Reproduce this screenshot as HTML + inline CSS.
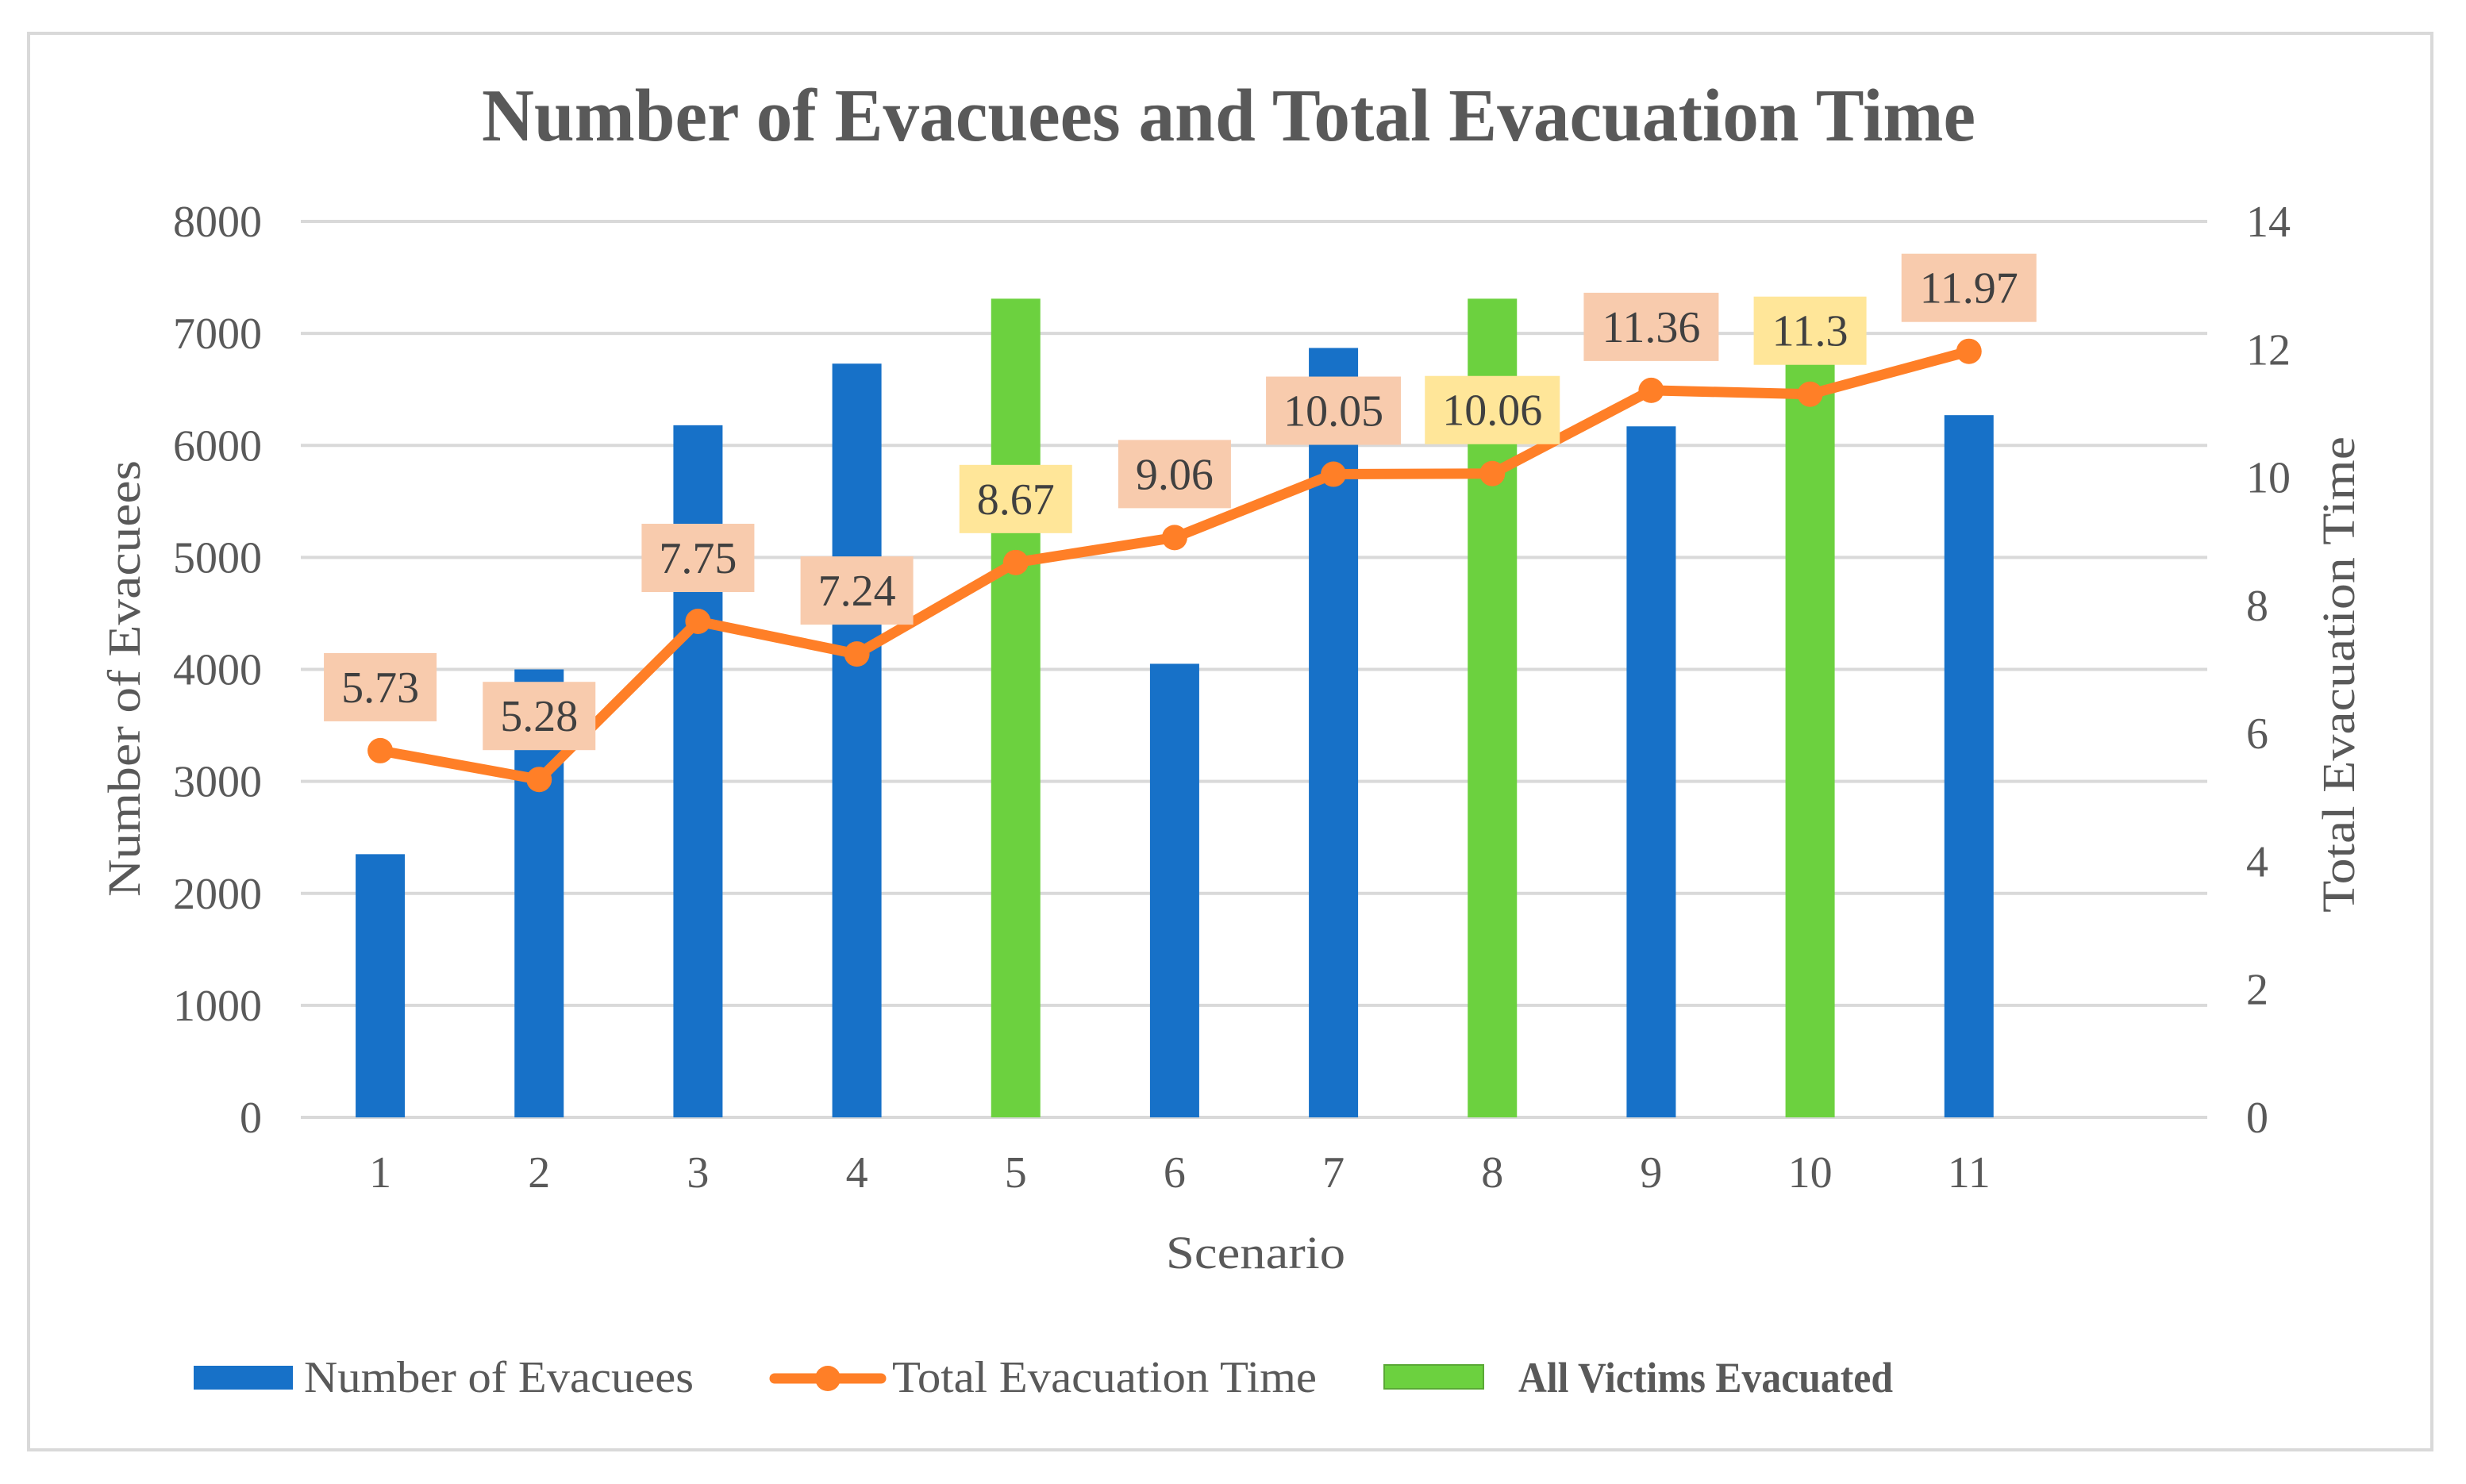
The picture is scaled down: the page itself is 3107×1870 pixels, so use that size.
<!DOCTYPE html>
<html><head><meta charset="utf-8"><style>
html,body{margin:0;padding:0;background:#fff;}
svg{display:block;font-family:"Liberation Serif",serif;}
</style></head><body>
<svg id="chart" width="3107" height="1870" viewBox="0 0 3107 1870" xmlns="http://www.w3.org/2000/svg">
<rect x="36" y="42" width="3028" height="1785" fill="#fff" stroke="#d9d9d9" stroke-width="4"/>
<text x="1548" y="177" text-anchor="middle" font-size="94" font-weight="bold" fill="#595959" textLength="1882" lengthAdjust="spacingAndGlyphs">Number of Evacuees and Total Evacuation Time</text>
<g id="grid"></g><g id="bars"></g><g id="line"></g><g id="labels"></g><g id="axes"></g>
<text transform="translate(176,855) rotate(-90)" text-anchor="middle" font-size="58" fill="#595959" textLength="550" lengthAdjust="spacingAndGlyphs">Number of Evacuees</text>
<text transform="translate(2966,850) rotate(-90)" text-anchor="middle" font-size="58" fill="#595959" textLength="600" lengthAdjust="spacingAndGlyphs">Total Evacuation Time</text>
<text x="1582" y="1598" text-anchor="middle" font-size="58" fill="#595959" textLength="226" lengthAdjust="spacingAndGlyphs">Scenario</text>
<g>
<g>
<rect x="244" y="1721" width="125" height="30" fill="#1771C8"/>
<text x="383" y="1754" font-size="56" fill="#595959" textLength="491" lengthAdjust="spacingAndGlyphs">Number of Evacuees</text></g>
<g>
<line x1="976" y1="1737" x2="1110" y2="1737" stroke="#FF7F27" stroke-width="13" stroke-linecap="round"/>
<circle cx="1043" cy="1737" r="16" fill="#FF7F27"/>
<text x="1124" y="1754" font-size="56" fill="#595959" textLength="535" lengthAdjust="spacingAndGlyphs">Total Evacuation Time</text></g>
<g>
<rect x="1744" y="1720" width="125" height="30" fill="#6CD13F" stroke="#5aa836" stroke-width="2"/>
<text x="1913" y="1754" font-size="54" font-weight="bold" fill="#595959" textLength="472" lengthAdjust="spacingAndGlyphs">All Victims Evacuated</text></g>
</g>
</svg>
<script>
const categories = ["1","2","3","4","5","6","7","8","9","10","11"];
const evacuees = [2350,4000,6180,6730,7310,4050,6870,7310,6170,7310,6270];
const allEvacuated = [false,false,false,false,true,false,false,true,false,true,false];
const times = [5.73,5.28,7.75,7.24,8.67,9.06,10.05,10.06,11.36,11.3,11.97];
const timeLabels = ["5.73","5.28","7.75","7.24","8.67","9.06","10.05","10.06","11.36","11.3","11.97"];
const leftTicks = [0,1000,2000,3000,4000,5000,6000,7000,8000];
const rightTicks = [0,2,4,6,8,10,12,14];

const NS="http://www.w3.org/2000/svg";
const L=379, R=2781, T=279, B=1408, nSlots=12;
const slot=(R-L)/nSlots;
const xC=i=>L+slot*(i+0.5);
const yL=v=>B-(v/8000)*(B-T);
const yR=v=>B-(v/14)*(B-T);
function mk(tag,attrs,parent){const e=document.createElementNS(NS,tag);for(const k in attrs)e.setAttribute(k,attrs[k]);parent.appendChild(e);return e;}
const grid=document.getElementById('grid'),bars=document.getElementById('bars'),line=document.getElementById('line'),labels=document.getElementById('labels'),axes=document.getElementById('axes');
leftTicks.forEach(v=>{
  const g=mk('line',{x1:L,x2:R,y1:yL(v),y2:yL(v),stroke:'#d9d9d9','stroke-width':4},grid);
  
  
  const t=mk('text',{x:330,y:yL(v)+19,'text-anchor':'end','font-size':56,fill:'#595959'},axes);
  t.textContent=v;
  
  
});
rightTicks.forEach(v=>{
  const t=mk('text',{x:2830,y:yR(v)+19,'text-anchor':'start','font-size':56,fill:'#595959'},axes);
  t.textContent=v;
  
  
});
categories.forEach((c,i)=>{
  const t=mk('text',{x:xC(i),y:1496,'text-anchor':'middle','font-size':56,fill:'#595959'},axes);
  t.textContent=c;
  
  
  const b=mk('rect',{x:xC(i)-31,y:yL(evacuees[i]),width:62,height:B-yL(evacuees[i]),fill:allEvacuated[i]?'#6CD13F':'#1771C8'},bars);
  
  
});
const pts=times.map((v,i)=>xC(i)+','+yR(v)).join(' ');
const pl=mk('polyline',{points:pts,fill:'none',stroke:'#FF7F27','stroke-width':13,'stroke-linejoin':'round'},line);


times.forEach((v,i)=>{
  const c=mk('circle',{cx:xC(i),cy:yR(v),r:16,fill:'#FF7F27'},line);
  
  
  const lbl=timeLabels[i];
  const w=lbl.length*28+30;
  const cy=yR(v)-80;
  const r=mk('rect',{x:xC(i)-w/2,y:cy-43,width:w,height:86,fill:allEvacuated[i]?'#FFE699':'#F8CBAD'},labels);
  
  
  const t=mk('text',{x:xC(i),y:cy+19,'text-anchor':'middle','font-size':56,fill:'#404040'},labels);
  t.textContent=lbl;
  
  
});
</script>
</body></html>
